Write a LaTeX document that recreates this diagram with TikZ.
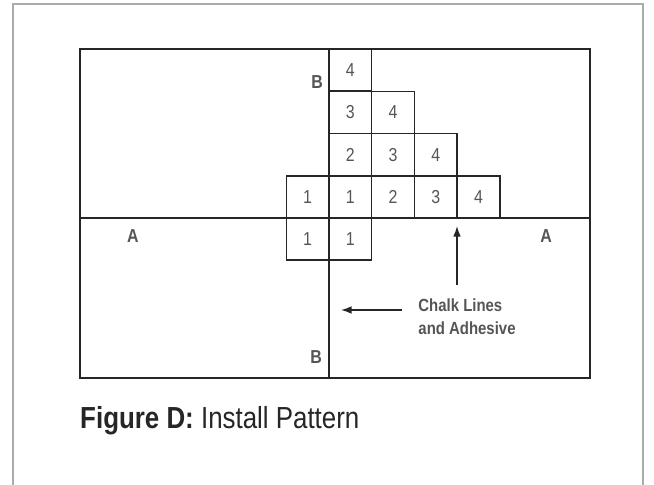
\documentclass[tikz,border=0pt]{standalone}
\usepackage{fontspec}
\setmainfont{Liberation Sans}[FakeStretch=0.85]
\usetikzlibrary{arrows.meta}
\definecolor{linec}{HTML}{262626}
\definecolor{numc}{HTML}{555555}
\definecolor{framec}{HTML}{ABABAB}

\begin{document}
\begin{tikzpicture}[
        x=0.03cm, y=-0.03cm,
        cell/.style={rectangle, draw=linec, line width=1.3pt, minimum width=1.28cm, minimum height=1.2675cm, inner sep=0pt, text=numc, font=\fontsize{16}{16}\selectfont},
        label/.style={text=numc, font=\fontsize{16}{16}\selectfont\bfseries},
        border/.style={draw=linec, line width=2.4pt},
        chalk/.style={draw=linec, line width=1.3pt},
        pointer/.style={draw=linec, line width=1.2pt, -{Latex[length=9pt,width=6.5pt]}}
    ]
    \useasboundingbox (0,0) rectangle (654,485);

    % Frame
    \draw[framec, line width=1.7pt] (13,485) -- (13,4) -- (643,4) -- (643,485);

    % Floor
    \draw[border] (80,49) rectangle (590,378);
    \coordinate (aw) at (80,218);
    \coordinate (ae) at (590,218);
    \coordinate (bn) at (329,49);
    \coordinate (bs) at (329,378);
    \draw[chalk] (aw) -- (ae);
    \draw[chalk] (bn) -- (bs);

    % Tiles
    \node[cell] at (307.65,196.9) (t1a) {1};
    \node[cell] at (307.65,239.1) (t1b) {1};
    \node[cell] at (350.35,196.9) (t1c) {1};
    \node[cell] at (350.35,239.1) (t1d) {1};
    \node[cell] at (350.35,154.6) (t2a) {2};
    \node[cell] at (393.05,196.9) (t2b) {2};
    \node[cell] at (350.35,112.4) (t3a) {3};
    \node[cell] at (393.05,154.6) (t3b) {3};
    \node[cell] at (435.75,196.9) (t3c) {3};
    \node[cell] at (350.35,70.1) (t4a) {4};
    \node[cell] at (393.05,112.4) (t4b) {4};
    \node[cell] at (435.75,154.6) (t4c) {4};
    \node[cell] at (478.45,196.9) (t4d) {4};

    % Labels
    \node[label] at (317,82) (btop) {B};
    \node[label] at (316,357) (bbot) {B};
    \node[label] at (133,236) (awest) {A};
    \node[label] at (546,236) (aeast) {A};

    % Note
    \node[text=numc, align=left, font=\fontsize{15}{19.5}\selectfont\bfseries] at (467,317) (note) {Chalk Lines\\and Adhesive};

    % Arrows
    \coordinate (upfrom) at (457,285);
    \coordinate (upto) at (457,226);
    \coordinate (leftfrom) at (402,310);
    \coordinate (leftto) at (341,310);
    \draw[pointer] (upfrom) -- (upto);
    \draw[pointer] (leftfrom) -- (leftto);

    % Caption
    \node[anchor=west, inner sep=0pt, text=linec, font=\fontsize{26}{26}\selectfont] at (80,421) (caption) {\textbf{Figure D:} Install Pattern};

\end{tikzpicture}
\end{document}
